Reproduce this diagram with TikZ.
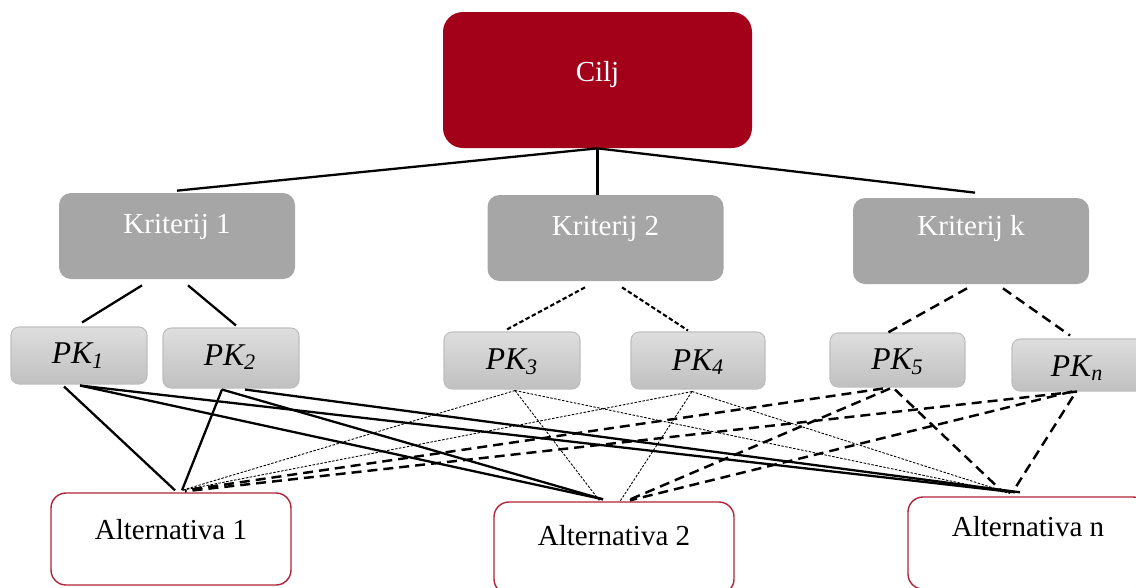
\documentclass[tikz,border=0pt]{standalone}
\usepackage{fontspec}
\setmainfont{Liberation Serif}
\usetikzlibrary{calc}
\definecolor{ciljred}{RGB}{163,0,25}
\definecolor{kgray}{RGB}{166,166,166}
\definecolor{pktop}{RGB}{222,222,222}
\definecolor{pkbot}{RGB}{192,192,192}
\definecolor{pkedge}{RGB}{190,190,190}
\definecolor{altred}{RGB}{176,36,56}
\tikzset{
  ciljbox/.style={rectangle, rounded corners=0.4cm, fill=ciljred, minimum width=6.18cm, minimum height=2.72cm, inner sep=0pt},
  kritbox/.style={rectangle, rounded corners=0.24cm, fill=kgray, minimum width=4.72cm, minimum height=1.72cm, inner sep=0pt},
  pkbox/.style={rectangle, rounded corners=0.16cm, draw=pkedge, line width=0.6pt, top color=pktop, bottom color=pkbot, minimum width=2.72cm, minimum height=1.14cm, inner sep=0pt},
  altbox/.style={rectangle, rounded corners=0.3cm, draw=altred, line width=0.8pt, fill=white, minimum width=4.8cm, minimum height=1.84cm, inner sep=0pt},
  wtxt/.style={text=white, font=\fontsize{16.5}{18}\selectfont, inner sep=0pt},
  btxt/.style={text=black, font=\fontsize{16.5}{18}\selectfont, inner sep=0pt},
  pktxt/.style={text=black, font=\fontsize{18}{20}\selectfont\itshape, inner sep=0pt},
  solidline/.style={line width=1.3pt, black},
  smalldash/.style={line width=1.2pt, black, dash pattern=on 0.09cm off 0.05cm},
  bigdash/.style={line width=1.4pt, black, dash pattern=on 0.2cm off 0.12cm},
  thindot/.style={line width=0.5pt, black, dash pattern=on 0.05cm off 0.03cm},
}
\begin{document}
\begin{tikzpicture}
\useasboundingbox (0,0) rectangle (22.72,-11.74);
% nodes
\node[ciljbox] (cilj) at (11.95,-1.6) {};
\node[wtxt] (tcilj) at ($(cilj)+(0,0.1)$) {Cilj};
\node[kritbox] (k1) at (3.54,-4.72) {};
\node[kritbox] (k2) at (12.11,-4.76) {};
\node[kritbox] (kk) at (19.42,-4.82) {};
\node[wtxt] (tk1) at ($(k1)+(0,0.18)$) {Kriterij 1};
\node[wtxt] (tk2) at ($(k2)+(0,0.18)$) {Kriterij 2};
\node[wtxt] (tkk) at ($(kk)+(0,0.24)$) {Kriterij k};
\node[pkbox] (pk1) at (1.58,-7.11) {};
\node[pkbox, minimum height=1.2cm] (pk2) at (4.62,-7.16) {};
\node[pkbox] (pk3) at (10.24,-7.21) {};
\node[pkbox, minimum width=2.68cm] (pk4) at (13.96,-7.21) {};
\node[pkbox, minimum width=2.7cm, minimum height=1.08cm] (pk5) at (17.95,-7.2) {};
\node[pkbox, minimum height=1.04cm] (pkn) at (21.6,-7.3) {};
\node[pktxt] (tpk1) at ($(pk1)+(-0.02,0)$) {PK\textsubscript{1}};
\node[pktxt] (tpk2) at ($(pk2)+(-0.02,0.02)$) {PK\textsubscript{2}};
\node[pktxt] (tpk3) at ($(pk3)+(0,-0.03)$) {PK\textsubscript{3}};
\node[pktxt] (tpk4) at ($(pk4)+(0,-0.03)$) {PK\textsubscript{4}};
\node[pktxt] (tpk5) at ($(pk5)+(0,-0.04)$) {PK\textsubscript{5}};
\node[pktxt] (tpkn) at ($(pkn)+(-0.06,-0.06)$) {PK\textsubscript{n}};
\node[altbox] (alt1) at (3.42,-10.78) {};
\node[altbox] (alt2) at (12.28,-10.96) {};
\node[altbox] (altn) at (20.56,-10.86) {};
\node[btxt] (talt1) at ($(alt1)+(0,0.18)$) {Alternativa 1};
\node[btxt] (talt2) at ($(alt2)+(0,0.24)$) {Alternativa 2};
\node[btxt] (taltn) at ($(altn)+(0,0.32)$) {Alternativa n};
% goal to criteria
\draw[solidline] (cilj.south) -- ([yshift=0.04cm]k1.north);
\draw[solidline] (cilj.south) -- ([yshift=0.0cm]cilj.south |- k2.north);
\draw[solidline] (cilj.south) -- ([xshift=0.08cm,yshift=0.1cm]kk.north);
% criteria to subcriteria
\draw[solidline] ([xshift=-0.7cm,yshift=-0.12cm]k1.south) -- ([xshift=0.06cm,yshift=0.08cm]pk1.north);
\draw[solidline] ([xshift=0.22cm,yshift=-0.12cm]k1.south) -- ([xshift=0.1cm,yshift=0.04cm]pk2.north);
\draw[smalldash] ([xshift=-0.41cm,yshift=-0.12cm]k2.south) -- ([xshift=-0.14cm,yshift=0.02cm]pk3.north);
\draw[smalldash] ([xshift=0.33cm,yshift=-0.12cm]k2.south) -- ([xshift=-0.2cm,yshift=0.02cm]pk4.north);
\draw[bigdash] ([xshift=-0.08cm,yshift=-0.08cm]kk.south) -- ([xshift=-0.19cm,yshift=0.0cm]pk5.north);
\draw[bigdash] ([xshift=0.64cm,yshift=-0.08cm]kk.south) -- ([xshift=-0.2cm,yshift=0.06cm]pkn.north);
% PK1
\draw[solidline] ([xshift=-0.3cm,yshift=-0.04cm]pk1.south) -- ([xshift=0.08cm,yshift=0.04cm]alt1.north);
\draw[solidline] ([xshift=0.02cm,yshift=-0.02cm]pk1.south) -- ([xshift=-0.22cm,yshift=0.04cm]alt2.north);
\draw[solidline] ([xshift=0.02cm,yshift=-0.02cm]pk1.south) -- ([xshift=-0.26cm,yshift=0.08cm]altn.north);
% PK2
\draw[solidline] ([xshift=-0.18cm,yshift=-0.02cm]pk2.south) -- ([xshift=0.22cm,yshift=0.04cm]alt1.north);
\draw[solidline] ([xshift=-0.18cm,yshift=-0.02cm]pk2.south) -- ([xshift=-0.22cm,yshift=0.04cm]alt2.north);
\draw[solidline] ([xshift=0.28cm,yshift=-0.02cm]pk2.south) -- ([xshift=-0.16cm,yshift=0.08cm]altn.north);
% PK3
\draw[thindot] ([xshift=0.06cm,yshift=-0.02cm]pk3.south) -- ([xshift=0.22cm,yshift=0.04cm]alt1.north);
\draw[thindot] ([xshift=0.06cm,yshift=-0.02cm]pk3.south) -- ([xshift=-0.28cm,yshift=0.0cm]alt2.north);
\draw[thindot] ([xshift=0.06cm,yshift=-0.02cm]pk3.south) -- ([xshift=-0.36cm,yshift=0.06cm]altn.north);
% PK4
\draw[thindot] ([xshift=-0.12cm,yshift=-0.04cm]pk4.south) -- ([xshift=0.22cm,yshift=0.04cm]alt1.north);
\draw[thindot] ([xshift=-0.12cm,yshift=-0.04cm]pk4.south) -- ([xshift=0.12cm,yshift=0.0cm]alt2.north);
\draw[thindot] ([xshift=-0.12cm,yshift=-0.04cm]pk4.south) -- ([xshift=-0.36cm,yshift=0.06cm]altn.north);
% PK5
\draw[bigdash] ([xshift=-0.29cm,yshift=-0.02cm]pk5.south) -- ([xshift=0.28cm,yshift=0.04cm]alt1.north);
\draw[bigdash] ([xshift=-0.15cm,yshift=-0.02cm]pk5.south) -- ([xshift=0.28cm,yshift=0.02cm]alt2.north);
\draw[bigdash] ([xshift=-0.05cm,yshift=-0.04cm]pk5.south) -- ([xshift=-0.56cm,yshift=0.14cm]altn.north);
% PKn
\draw[bigdash] ([xshift=-0.06cm,yshift=0.0cm]pkn.south) -- ([xshift=0.28cm,yshift=0.02cm]alt1.north);
\draw[bigdash] ([xshift=-0.16cm,yshift=0.0cm]pkn.south) -- ([xshift=0.32cm,yshift=0.02cm]alt2.north);
\draw[bigdash] ([xshift=-0.14cm,yshift=-0.1cm]pkn.south) -- ([xshift=-0.26cm,yshift=0.16cm]altn.north);
\end{tikzpicture}
\end{document}
